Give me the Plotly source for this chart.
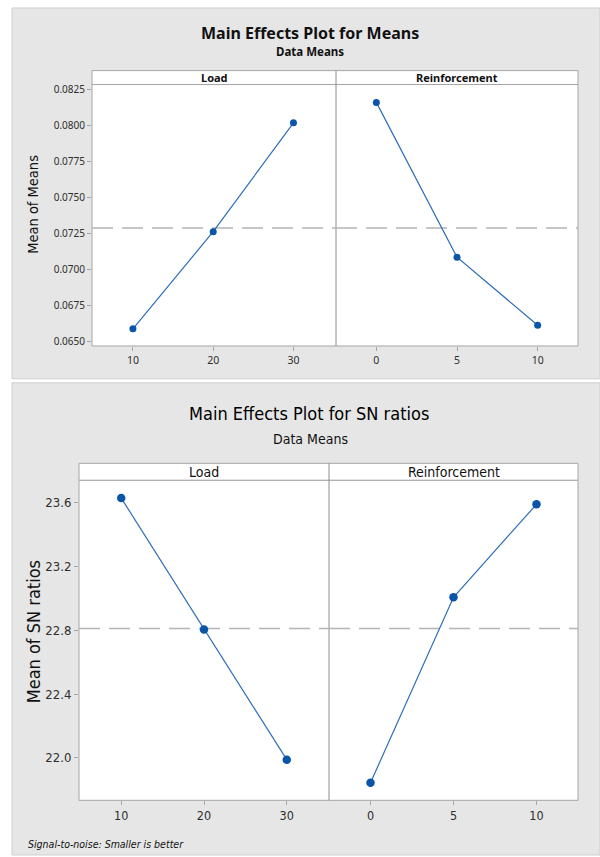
import numpy as np
import plotly.graph_objects as go

# ---- data ----
load_levels = [10, 20, 30]
reinf_levels = [0, 5, 10]
means_load = [0.06587, 0.07261, 0.08016]
means_reinf = [0.08158, 0.07084, 0.06612]
sn_load = [23.629, 22.805, 21.989]
sn_reinf = [21.844, 23.007, 23.590]
means_yticks = [0.0650, 0.0675, 0.0700, 0.0725, 0.0750, 0.0775, 0.0800, 0.0825]
sn_yticks = [22.0, 22.4, 22.8, 23.2, 23.6]

W, H = 600, 857
def px(x): return x / W
def py(y): return 1 - y / H

LINE = "#2e6db8"
MARK = "#0a55a8"
FRAME = "#a6a6a6"
GRAY = "#e6e6e6"
TXT = "#2e2e2e"
FONT_TOP = "Noto Sans"
FONT_BOT = "DejaVu Sans Condensed, Roboto"

fig = go.Figure()

def add_series(x, y, xa, ya, msize):
    fig.add_trace(go.Scatter(x=x, y=y, xaxis=xa, yaxis=ya, mode="lines+markers",
                             line=dict(color=LINE, width=1.2),
                             marker=dict(color=MARK, size=msize, symbol="circle"),
                             showlegend=False, hoverinfo="skip"))

add_series(load_levels, means_load, "x", "y", 7)
add_series(reinf_levels, means_reinf, "x2", "y", 7)
add_series(load_levels, sn_load, "x3", "y2", 8.5)
add_series(reinf_levels, sn_reinf, "x4", "y2", 8.5)

grand_means = float(np.mean(means_load + means_reinf))
grand_sn = float(np.mean(sn_load + sn_reinf))

# panel geometry (pixels)
top = dict(l=92, m=336, r=578, st=68, pt=82, pb=345)
bot = dict(l=79, m=329, r=578, st=463, pt=480, pb=802)

shapes = []
shapes.append(dict(type="rect", xref="paper", yref="paper", x0=px(12), x1=px(600), y0=py(378), y1=py(5),
                   fillcolor=GRAY, line=dict(color="#cfcfcf", width=1), layer="below"))
shapes.append(dict(type="rect", xref="paper", yref="paper", x0=px(12), x1=px(600), y0=py(857), y1=py(382),
                   fillcolor=GRAY, line=dict(color="#cfcfcf", width=1), layer="below"))
for g in (top, bot):
    shapes.append(dict(type="rect", xref="paper", yref="paper", x0=px(g["l"]), x1=px(g["r"]),
                       y0=py(g["pb"]), y1=py(g["pt"]), fillcolor="white",
                       line=dict(color=FRAME, width=1), layer="below"))
    shapes.append(dict(type="rect", xref="paper", yref="paper", x0=px(g["l"]), x1=px(g["r"]),
                       y0=py(g["pt"]), y1=py(g["st"]), fillcolor="white",
                       line=dict(color=FRAME, width=1), layer="below"))
    shapes.append(dict(type="line", xref="paper", yref="paper", x0=px(g["m"]), x1=px(g["m"]),
                       y0=py(g["pb"]), y1=py(g["st"]), line=dict(color="#8c8c8c", width=1), layer="below"))

for xa, ya, val in (("x", "y", grand_means), ("x2", "y", grand_means),
                    ("x3", "y2", grand_sn), ("x4", "y2", grand_sn)):
    shapes.append(dict(type="line", xref=f"{xa} domain", yref=ya, x0=0, x1=1, y0=val, y1=val,
                       line=dict(color="#b4b4b4", width=1.5, dash="21px,9px"), layer="below"))

def xaxis(dom, rng, anchor, size, font):
    return dict(domain=dom, range=rng, anchor=anchor, showgrid=False, zeroline=False,
                showline=False, ticks="outside", ticklen=4, tickcolor=FRAME,
                tickfont=dict(size=size, color=TXT, family=font), fixedrange=True)

fig.update_layout(
    width=W, height=H, margin=dict(l=0, r=0, t=0, b=0),
    paper_bgcolor="white", plot_bgcolor="rgba(0,0,0,0)",
    xaxis=dict(xaxis([px(top["l"]), px(top["m"])], [4.9, 35.3], "y", 10.5, FONT_TOP), tickvals=load_levels),
    xaxis2=dict(xaxis([px(top["m"]), px(top["r"])], [-2.5, 12.5], "y", 10.5, FONT_TOP), tickvals=reinf_levels),
    xaxis3=dict(xaxis([px(bot["l"]), px(bot["m"])], [4.9, 35.1], "y2", 12.5, FONT_BOT), tickvals=load_levels),
    xaxis4=dict(xaxis([px(bot["m"]), px(bot["r"])], [-2.5, 12.5], "y2", 12.5, FONT_BOT), tickvals=reinf_levels),
    yaxis=dict(domain=[py(top["pb"]), py(top["pt"])], range=[0.06468, 0.08282], anchor="x",
               tickvals=means_yticks, ticktext=[f"{v:.4f}" for v in means_yticks],
               showgrid=False, zeroline=False, showline=False, ticks="outside", ticklen=4,
               tickcolor=FRAME, tickfont=dict(size=10, color=TXT, family=FONT_TOP), fixedrange=True),
    yaxis2=dict(domain=[py(bot["pb"]), py(bot["pt"])], range=[21.734, 23.741], anchor="x3",
                tickvals=sn_yticks, ticktext=[f"{v:.1f}" for v in sn_yticks],
                showgrid=False, zeroline=False, showline=False, ticks="outside", ticklen=4,
                tickcolor=FRAME, tickfont=dict(size=13, color=TXT, family=FONT_BOT), fixedrange=True),
    shapes=shapes,
)

def ann(text, x, y, size, family, bold=False, italic=False, angle=0, xanchor="center", color="#111111"):
    t = text
    if bold:
        t = f"<b>{t}</b>"
    if italic:
        t = f"<i>{t}</i>"
    fig.add_annotation(text=t, x=px(x), y=py(y), xref="paper", yref="paper", showarrow=False,
                       xanchor=xanchor, yanchor="middle", textangle=angle,
                       font=dict(size=size, family=family, color=color))

# top panel texts
ann("Main Effects Plot for Means", 310, 30, 16, FONT_TOP, bold=True)
ann("Data Means", 310, 49, 11.5, FONT_TOP, bold=True)
ann("Load", (top["l"] + top["m"]) / 2, 75, 11, FONT_TOP, bold=True)
ann("Reinforcement", (top["m"] + top["r"]) / 2, 75, 11, FONT_TOP, bold=True)
ann("Mean of Means", 33, 203, 14.5, FONT_BOT, angle=-90)

# bottom panel texts
ann("Main Effects Plot for SN ratios", 309, 413, 18, FONT_BOT, color="#000000")
ann("Data Means", 310, 439, 14, FONT_BOT)
ann("Load", (bot["l"] + bot["m"]) / 2, 472, 14, FONT_BOT)
ann("Reinforcement", (bot["m"] + bot["r"]) / 2, 472, 14, FONT_BOT)
ann("Mean of SN ratios", 33, 633, 18, FONT_BOT, angle=-90)
ann("Signal-to-noise: Smaller is better", 26, 846, 10.5, FONT_BOT, italic=True, xanchor="left")

fig.write_html("out.html")
